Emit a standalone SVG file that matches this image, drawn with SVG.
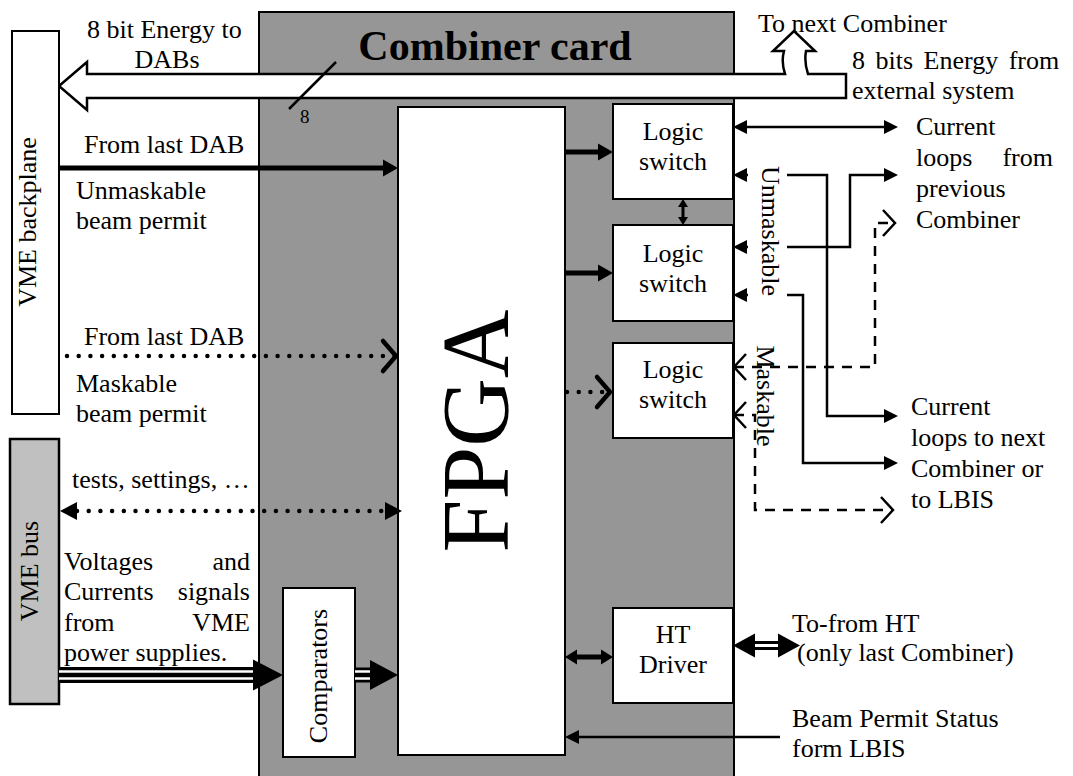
<svg xmlns="http://www.w3.org/2000/svg" width="1073" height="776" viewBox="0 0 1073 776">
<style>
text{font-family:"Liberation Serif","Times New Roman",serif;font-size:26px;fill:#000}
.box{fill:#fff;stroke:#000;stroke-width:2}
.ln{fill:none;stroke:#000;stroke-width:2.5}
.thick{fill:none;stroke:#000;stroke-width:5}
.dot{fill:none;stroke:#000;stroke-width:4.5;stroke-dasharray:0 11.7;stroke-linecap:round}
.dash{fill:none;stroke:#000;stroke-width:2.5;stroke-dasharray:10 8}
.mid{text-anchor:middle}
</style>
<defs>
<marker id="ah" markerUnits="userSpaceOnUse" markerWidth="14" markerHeight="14" refX="0" refY="7" orient="auto-start-reverse" overflow="visible"><path d="M0,0 L14,7 L0,14 Z" fill="#000"/></marker>
<marker id="ahB" markerUnits="userSpaceOnUse" markerWidth="15" markerHeight="17" refX="0" refY="8.5" orient="auto-start-reverse" overflow="visible"><path d="M0,0 L15,8.5 L0,17 Z" fill="#000"/></marker>
<marker id="ahM" markerUnits="userSpaceOnUse" markerWidth="17" markerHeight="18" refX="0" refY="9" orient="auto-start-reverse" overflow="visible"><path d="M0,0 L17,9 L0,18 Z" fill="#000"/></marker>
<marker id="ahM2" markerUnits="userSpaceOnUse" markerWidth="12" markerHeight="15" refX="0" refY="7.5" orient="auto-start-reverse" overflow="visible"><path d="M0,0 L12,7.5 L0,15 Z" fill="#000"/></marker>
<marker id="ahS" markerUnits="userSpaceOnUse" markerWidth="8" markerHeight="10" refX="0" refY="5" orient="auto-start-reverse" overflow="visible"><path d="M0,0 L8,5 L0,10 Z" fill="#000"/></marker>
<marker id="ahH" markerUnits="userSpaceOnUse" markerWidth="22" markerHeight="24" refX="0" refY="12" orient="auto-start-reverse" overflow="visible"><path d="M0,0 L22,12 L0,24 Z" fill="#000"/></marker>
<marker id="ahT" markerUnits="userSpaceOnUse" markerWidth="30" markerHeight="31" refX="0" refY="15.5" orient="auto" overflow="visible"><path d="M0,0 L30,15.5 L0,31 Z" fill="#000"/></marker>
<marker id="ahT2" markerUnits="userSpaceOnUse" markerWidth="28" markerHeight="30" refX="0" refY="15" orient="auto" overflow="visible"><path d="M0,0 L28,15 L0,30 Z" fill="#000"/></marker>
<marker id="ch" markerUnits="userSpaceOnUse" markerWidth="12" markerHeight="26" refX="12" refY="13" orient="auto-start-reverse" overflow="visible"><path d="M0,0 L12,13 L0,26" fill="none" stroke="#000" stroke-width="2.5" stroke-dasharray="none"/></marker>
<marker id="chB" markerUnits="userSpaceOnUse" markerWidth="13" markerHeight="30" refX="13" refY="15" orient="auto" overflow="visible"><path d="M0,0 L13,15 L0,30" fill="none" stroke="#000" stroke-width="4.5" stroke-linecap="round" stroke-dasharray="none"/></marker>
</defs>

<g id="combiner-card">
<rect x="259" y="12" width="475" height="780" fill="#969696" stroke="#000" stroke-width="2"/>
<text x="495" y="60" class="mid" style="font-size:42px;font-weight:bold">Combiner card</text>
</g>

<g id="energy-bus">
<path d="M59,86 L87,62 L87,74 L785,74 Q781,62 784,51 L773,51 L794,31 L815,51 L806,51 Q804,62 808,74 L846,74 L846,98 L87,98 L87,110 Z" fill="#fff" stroke="#000" stroke-width="2.5" stroke-linejoin="miter"/>
<line x1="336" y1="62" x2="289" y2="109" stroke="#000" stroke-width="2.5"/>
<text x="300" y="123" style="font-size:19px">8</text>
</g>

<g id="vme-backplane">
<rect x="12" y="31" width="47" height="383" class="box" stroke-width="2.5"/>
<text transform="translate(36,222) rotate(-90)" class="mid">VME backplane</text>
</g>

<g id="vme-bus">
<rect x="10" y="439" width="49" height="265" fill="#c0c0c0" stroke="#000" stroke-width="2.5"/>
<text transform="translate(38,571) rotate(-90)" class="mid">VME bus</text>
</g>

<g id="fpga">
<rect x="398" y="107" width="167" height="648" class="box"/>
<text transform="translate(508,431) rotate(-90)" class="mid" style="font-size:95px">FPGA</text>
</g>

<g id="logic-switch-1">
<rect x="613" y="104" width="120" height="95" class="box"/>
<text x="673" y="140" class="mid">Logic</text>
<text x="673" y="170" class="mid">switch</text>
</g>
<g id="logic-switch-2">
<rect x="613" y="225" width="120" height="96" class="box"/>
<text x="673" y="262" class="mid">Logic</text>
<text x="673" y="292" class="mid">switch</text>
</g>
<g id="logic-switch-3">
<rect x="613" y="343" width="120" height="95" class="box"/>
<text x="673" y="378" class="mid">Logic</text>
<text x="673" y="408" class="mid">switch</text>
</g>

<g id="ht-driver">
<rect x="613" y="608" width="120" height="95" class="box"/>
<text x="673" y="643" class="mid">HT</text>
<text x="673" y="673" class="mid">Driver</text>
</g>

<g id="comparators">
<rect x="283" y="588" width="72" height="169" class="box"/>
<text transform="translate(327,676) rotate(-90)" class="mid">Comparators</text>
</g>

<g id="connectors">
<path d="M59,168 H383" class="thick" stroke-width="4" marker-end="url(#ahB)"/>
<path d="M67,356 H396" class="dot" marker-end="url(#chB)"/>
<path d="M77,511 H385" class="dot" marker-start="url(#ahM)" marker-end="url(#ahM)"/>
<path d="M59,675 H253" fill="none" stroke="#000" stroke-width="16" marker-end="url(#ahT)"/>
<path d="M59,671.5 H253 M59,678.5 H253" fill="none" stroke="#fff" stroke-width="2.5"/>
<path d="M355,675 H370" fill="none" stroke="#000" stroke-width="15" marker-end="url(#ahT2)"/>
<path d="M355,671.5 H370 M355,678.5 H370" fill="none" stroke="#fff" stroke-width="2.5"/>
<path d="M565,152 H598" class="thick" marker-end="url(#ahB)"/>
<path d="M565,273 H598" class="thick" marker-end="url(#ahB)"/>
<path d="M567,392 H610" class="dot" marker-end="url(#chB)"/>
<path d="M683,207 V217" fill="none" stroke="#000" stroke-width="3" marker-start="url(#ahS)" marker-end="url(#ahS)"/>
<path d="M577,657 H601" class="thick" marker-start="url(#ahM2)" marker-end="url(#ahM2)"/>
<path d="M755,645.5 H778" fill="none" stroke="#000" stroke-width="9" marker-start="url(#ahH)" marker-end="url(#ahH)"/>
<path d="M755,645.5 H778" fill="none" stroke="#fff" stroke-width="3"/>
<path d="M780,737 H579" class="ln" marker-end="url(#ah)"/>
<path d="M747,127 H884" class="ln" marker-start="url(#ah)" marker-end="url(#ah)"/>
<path d="M747,175 H827 V416 H884" class="ln" marker-start="url(#ah)" marker-end="url(#ah)"/>
<path d="M747,247 H850 V175 H884" class="ln" marker-start="url(#ah)" marker-end="url(#ah)"/>
<path d="M747,295 H803 V463 H884" class="ln" marker-start="url(#ah)" marker-end="url(#ah)"/>
<path d="M734,367 H875 V223 H895" class="dash" marker-start="url(#ch)" marker-end="url(#ch)"/>
<path d="M734,415 H755 V510 H893" class="dash" marker-start="url(#ch)" marker-end="url(#ch)"/>
</g>

<g id="labels">
<text x="87" y="38">8 bit Energy to</text>
<text x="167" y="68" class="mid">DABs</text>
<text x="758" y="32">To next Combiner</text>
<text x="852" y="69" word-spacing="4">8 bits Energy from</text>
<text x="852" y="99">external system</text>
<text x="84" y="153">From last DAB</text>
<text x="76" y="199">Unmaskable</text>
<text x="76" y="229">beam permit</text>
<text x="84" y="345">From last DAB</text>
<text x="76" y="392">Maskable</text>
<text x="76" y="422">beam permit</text>
<text x="72" y="488">tests, settings, …</text>
<text x="64" y="570">Voltages</text><text x="250" y="570" text-anchor="end">and</text>
<text x="64" y="600">Currents</text><text x="250" y="600" text-anchor="end">signals</text>
<text x="64" y="631">from</text><text x="250" y="631" text-anchor="end">VME</text>
<text x="64" y="661">power supplies.</text>
<text x="916" y="135">Current</text>
<text x="916" y="166">loops</text><text x="1053" y="166" text-anchor="end">from</text>
<text x="916" y="197">previous</text>
<text x="916" y="228">Combiner</text>
<text x="911" y="415">Current</text>
<text x="911" y="446">loops to next</text>
<text x="911" y="477">Combiner or</text>
<text x="911" y="508">to LBIS</text>
<text x="792" y="632">To-from HT</text>
<text x="797" y="661">(only last Combiner)</text>
<text x="792" y="727">Beam Permit Status</text>
<text x="792" y="757">form LBIS</text>
<rect x="748" y="158" width="39" height="145" fill="#fff"/>
<text transform="translate(762,231) rotate(90)" class="mid">Unmaskable</text>
<text transform="translate(757,396) rotate(90)" class="mid">Maskable</text>
</g>
</svg>
